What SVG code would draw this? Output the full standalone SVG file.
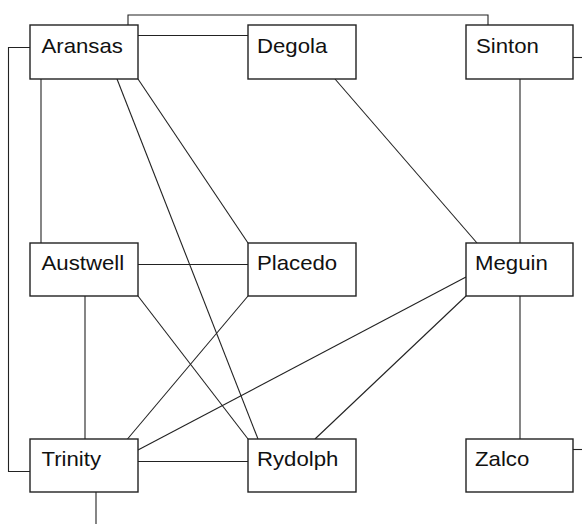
<svg xmlns="http://www.w3.org/2000/svg" width="582" height="524" viewBox="0 0 582 524">
<style>
.box{fill:#fff;stroke:#222;stroke-width:1.4}
.lbl{font-family:"Liberation Sans",Arial,sans-serif;font-size:20px;fill:#111}
.edge{fill:none;stroke:#222;stroke-width:1.1}
</style>
<rect width="582" height="524" fill="#fff"/>
<g id="connectors">
<polyline class="edge" points="128,25 128,15 488,15 488,25"/>
<line class="edge" x1="138" y1="35.5" x2="248" y2="35.5"/>
<polyline class="edge" points="30,47.5 8.5,47.5 8.5,471.5 30,471.5"/>
<line class="edge" x1="41" y1="79" x2="41" y2="243"/>
<line class="edge" x1="138" y1="79" x2="248" y2="243"/>
<line class="edge" x1="117" y1="79" x2="258" y2="439"/>
<line class="edge" x1="138" y1="264.5" x2="248" y2="264.5"/>
<line class="edge" x1="138" y1="296" x2="248" y2="439"/>
<line class="edge" x1="85" y1="296" x2="85" y2="439"/>
<line class="edge" x1="248" y1="296" x2="127.5" y2="439"/>
<line class="edge" x1="466" y1="277" x2="138" y2="450"/>
<line class="edge" x1="466" y1="296" x2="315" y2="439"/>
<line class="edge" x1="335" y1="79" x2="477" y2="243"/>
<line class="edge" x1="520" y1="79" x2="520" y2="243"/>
<line class="edge" x1="520" y1="296" x2="520" y2="439"/>
<line class="edge" x1="138" y1="461.5" x2="248" y2="461.5"/>
<line class="edge" x1="96" y1="492" x2="96" y2="524"/>
<line class="edge" x1="573" y1="57.5" x2="582" y2="57.5"/>
<line class="edge" x1="573" y1="449.5" x2="582" y2="449.5"/>
</g>
<g id="Aransas"><rect class="box" x="30" y="25" width="108" height="54"/><text class="lbl" transform="translate(41.5,52.5) scale(1.11,1)">Aransas</text></g>
<g id="Degola"><rect class="box" x="248" y="25" width="108" height="54"/><text class="lbl" transform="translate(257,52.5) scale(1.11,1)">Degola</text></g>
<g id="Sinton"><rect class="box" x="466" y="25" width="107" height="54"/><text class="lbl" transform="translate(476,52.5) scale(1.11,1)">Sinton</text></g>
<g id="Austwell"><rect class="box" x="30" y="243" width="108" height="53"/><text class="lbl" transform="translate(41.5,269.5) scale(1.11,1)">Austwell</text></g>
<g id="Placedo"><rect class="box" x="248" y="243" width="108" height="53"/><text class="lbl" transform="translate(257,269.5) scale(1.11,1)">Placedo</text></g>
<g id="Meguin"><rect class="box" x="466" y="243" width="107" height="53"/><text class="lbl" transform="translate(475,269.5) scale(1.11,1)">Meguin</text></g>
<g id="Trinity"><rect class="box" x="30" y="439" width="108" height="53"/><text class="lbl" transform="translate(41.5,465.5) scale(1.11,1)">Trinity</text></g>
<g id="Rydolph"><rect class="box" x="248" y="439" width="108" height="53"/><text class="lbl" transform="translate(257,465.5) scale(1.11,1)">Rydolph</text></g>
<g id="Zalco"><rect class="box" x="466" y="439" width="107" height="53"/><text class="lbl" transform="translate(475,465.5) scale(1.11,1)">Zalco</text></g>
</svg>
